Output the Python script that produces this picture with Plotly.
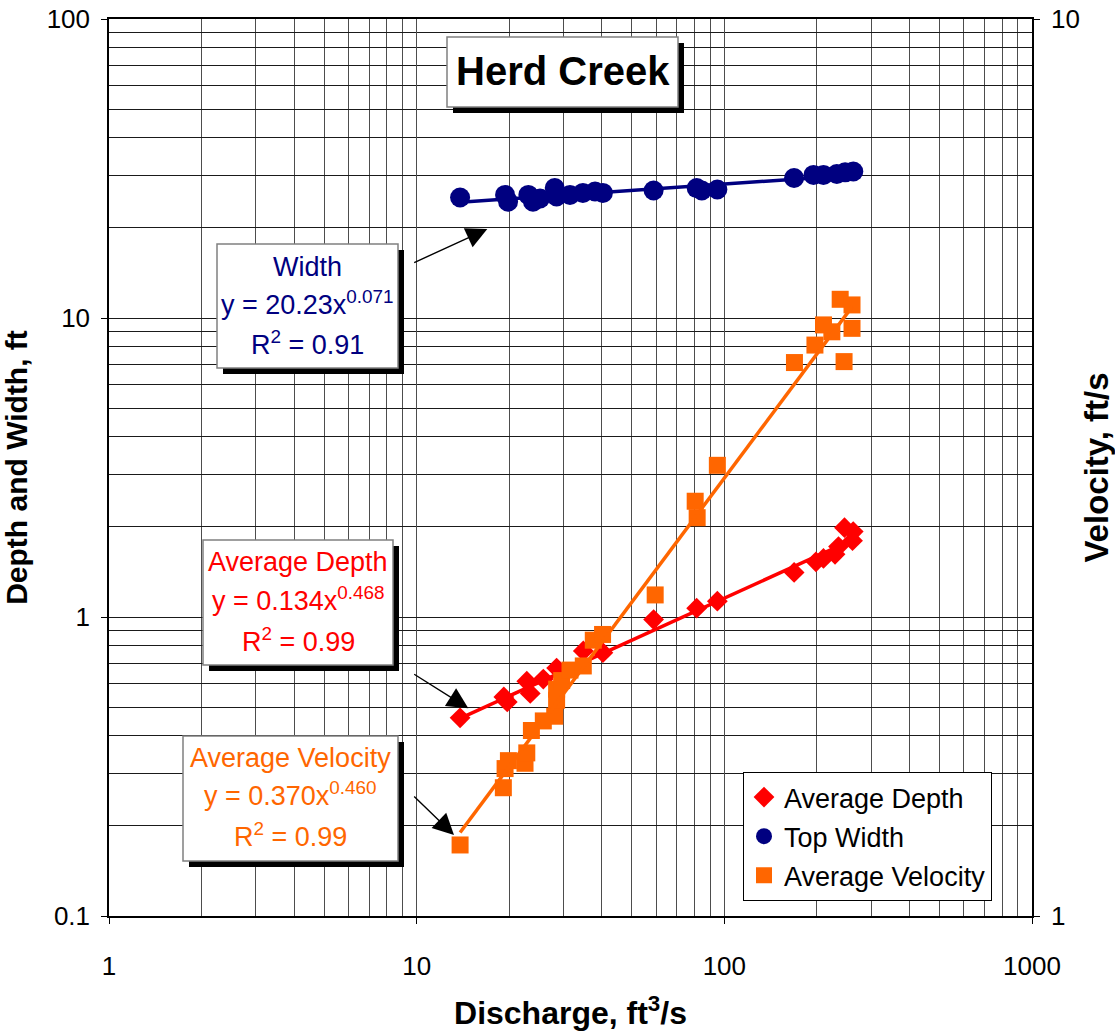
import plotly.graph_objects as go

# ---------------- data ----------------
width_q = [13.84, 19.38, 19.82, 23.07, 23.89, 25.18, 28.1, 28.5, 31.5, 34.7, 38.0, 40.3,
           58.9, 81.3, 84.5, 94.9, 168.5, 194.9, 210.0, 232.1, 247.0, 262.5]
width_ft = [25.3, 25.8, 24.5, 25.8, 24.5, 25.1, 27.2, 25.5, 25.8, 26.2, 26.5, 26.2,
            26.7, 27.2, 26.7, 26.9, 29.4, 30.1, 30.1, 30.3, 30.7, 30.9]

depth_q = [13.84, 19.2, 19.7, 22.8, 23.4, 25.8, 28.5, 34.8, 40.3, 58.9, 81.3, 94.9,
           168.6, 198.5, 210.0, 229.0, 235.0, 245.8, 262.4, 261.0]
depth_ft = [0.46, 0.54, 0.52, 0.61, 0.555, 0.62, 0.675, 0.77, 0.76, 0.98, 1.07, 1.13,
            1.41, 1.53, 1.57, 1.62, 1.72, 1.99, 1.93, 1.80]

vel_q = [13.84, 19.13, 19.38, 19.87, 22.5, 22.8, 23.6, 25.8, 28.1, 28.5, 28.5, 29.6,
         31.5, 34.8, 37.5, 40.2, 59.6, 80.4, 81.6, 94.9, 169.0, 197.0, 210.0, 223.6,
         238.0, 245.0, 260.0, 260.0]
vel_fps = [1.20, 1.39, 1.46, 1.49, 1.48, 1.52, 1.61, 1.65, 1.67, 1.74, 1.79, 1.83,
           1.88, 1.90, 2.03, 2.06, 2.28, 2.90, 2.78, 3.18, 4.14, 4.33, 4.56, 4.48,
           4.87, 4.15, 4.80, 4.52]

# power-law trendline coefficients (as printed on chart)
width_fit = (20.23, 0.071)
depth_fit = (0.134, 0.468)
vel_fit = (0.370, 0.460)

x_ticks = [1, 10, 100, 1000]
x_ticktext = ["1", "10", "100", "1000"]
y_ticks = [0.1, 1, 10, 100]
y_ticktext = ["0.1", "1", "10", "100"]
y2_ticks = [1, 10]
y2_ticktext = ["1", "10"]

NAVY = "#000080"
RED = "#FF0000"
ORANGE = "#FF6600"
FONT = "Arial, Liberation Sans, sans-serif"


def fit_line(q, coef):
    a, b = coef
    xs = [min(q), max(q)]
    return xs, [a * x ** b for x in xs]


fig = go.Figure()

fig.add_trace(go.Scatter(x=depth_q, y=depth_ft, mode="markers", name="Average Depth",
                         legendgroup="d", legendrank=1,
                         marker=dict(symbol="diamond", size=16, color=RED, line=dict(width=0))))
fig.add_trace(go.Scatter(x=width_q, y=width_ft, mode="markers", name="Top Width",
                         legendgroup="w", legendrank=2,
                         marker=dict(symbol="circle", size=20, color=NAVY, line=dict(width=0))))

lx, ly = fit_line(depth_q, depth_fit)
fig.add_trace(go.Scatter(x=lx, y=ly, mode="lines", line=dict(color=RED, width=3.5), showlegend=False))
lx, ly = fit_line(width_q, width_fit)
fig.add_trace(go.Scatter(x=lx, y=ly, mode="lines", line=dict(color=NAVY, width=3.5), showlegend=False))

fig.add_trace(go.Scatter(x=vel_q, y=vel_fps, mode="markers", name="Average Velocity",
                         legendgroup="v", legendrank=3, yaxis="y2",
                         marker=dict(symbol="square", size=17, color=ORANGE, line=dict(width=0))))
lx, ly = fit_line(vel_q, vel_fit)
fig.add_trace(go.Scatter(x=lx, y=ly, mode="lines", line=dict(color=ORANGE, width=3.5),
                         showlegend=False, yaxis="y2"))

# ---------------- layout geometry helpers ----------------
L, R, T, B = 109, 1032, 19, 916


def px(x):
    return (x - L) / (R - L)


def py(y):
    return (B - y) / (B - T)


shapes = []
annotations = []


def box(x0, y0, x1, y1, sh=6):
    shapes.append(dict(type="rect", xref="paper", yref="paper", layer="above",
                       x0=px(x0 + sh), x1=px(x1 + sh), y0=py(y0 + sh), y1=py(y1 + sh),
                       fillcolor="black", line=dict(width=0)))
    shapes.append(dict(type="rect", xref="paper", yref="paper", layer="above",
                       x0=px(x0), x1=px(x1), y0=py(y0), y1=py(y1),
                       fillcolor="white", line=dict(color="#808080", width=1.5)))


def label(x, y, text, color, size=27, bold=False):
    annotations.append(dict(xref="paper", yref="paper", x=px(x), y=py(y), text=text,
                            showarrow=False, xanchor="center", yanchor="middle",
                            font=dict(family=FONT, size=size, color=color,
                                      weight="bold" if bold else "normal")))


def arrow(x0, y0, x1, y1):
    annotations.append(dict(xref="paper", yref="paper", x=px(x1), y=py(y1), text="",
                            showarrow=True, axref="pixel", ayref="pixel",
                            ax=x0 - x1, ay=y0 - y1, arrowhead=2, arrowsize=3,
                            arrowwidth=1.4, arrowcolor="black", standoff=0))


# Title box
box(447, 37, 678, 107)
label(562.5, 71, "Herd Creek", "black", size=40, bold=True)

# Width box
box(217, 244, 398, 368)
label(307.5, 267, "Width", NAVY)
label(307.5, 303, "y = 20.23x<sup>0.071</sup>", NAVY)
label(307.5, 343, "R<sup>2</sup> = 0.91", NAVY)

# Depth box
box(203, 540, 393, 665)
label(298, 562, "Average Depth", RED)
label(298, 599, "y = 0.134x<sup>0.468</sup>", RED)
label(298, 640, "R<sup>2</sup> = 0.99", RED)

# Velocity box
box(183, 736, 398, 861)
label(290.5, 758, "Average Velocity", ORANGE)
label(290.5, 794, "y = 0.370x<sup>0.460</sup>", ORANGE)
label(290.5, 835, "R<sup>2</sup> = 0.99", ORANGE)

arrow(412.7, 263.3, 487.3, 229)
arrow(412.7, 673.3, 468.3, 708.3)
arrow(412.7, 795, 454, 835)

axis_common = dict(type="log", showline=True, linecolor="black", linewidth=1.5,
                   ticks="outside", ticklen=6, tickcolor="black", tickwidth=1,
                   tickfont=dict(family=FONT, size=26, color="black"), zeroline=False,
                   automargin=False)

fig.update_layout(
    width=1115, height=1032, autosize=False,
    margin=dict(l=L, r=1115 - R, t=T, b=1032 - B),
    paper_bgcolor="white", plot_bgcolor="white",
    font=dict(family=FONT, color="black"),
    xaxis=dict(**axis_common, range=[0, 3], tickvals=x_ticks, ticktext=x_ticktext,
               mirror=True, showgrid=True, gridcolor="#4d4d4d", gridwidth=1.2,
               ticklabelstandoff=20,
               minor=dict(dtick="D1", showgrid=True, gridcolor="#4d4d4d", gridwidth=1.2,
                          ticks=""),
               title=dict(text="Discharge, ft<sup>3</sup>/s", standoff=22,
                          font=dict(family=FONT, size=32, color="black", weight="bold"))),
    yaxis=dict(**axis_common, range=[-1, 2], tickvals=y_ticks, ticktext=y_ticktext,
               mirror=False, showgrid=True, gridcolor="#1a1a1a", gridwidth=1,
               ticklabelstandoff=6,
               minor=dict(dtick="D1", showgrid=True, gridcolor="#1a1a1a", gridwidth=1,
                          ticks=""),
               title=dict(text="Depth and Width, ft", standoff=14,
                          font=dict(family=FONT, size=30, color="black", weight="bold"))),
    yaxis2=dict(**axis_common, range=[0, 1], tickvals=y2_ticks, ticktext=y2_ticktext,
                overlaying="y", side="right", showgrid=False, ticklabelstandoff=6,
                title=dict(text="Velocity, ft/s", standoff=30,
                           font=dict(family=FONT, size=33, color="black", weight="bold"))),
    legend=dict(x=px(743), y=py(772), xanchor="left", yanchor="top",
                bgcolor="white", bordercolor="black", borderwidth=1,
                font=dict(family=FONT, size=27, color="black"),
                tracegroupgap=1, itemsizing="trace", itemwidth=30),
    shapes=shapes,
    annotations=annotations,
    showlegend=True,
)

fig.write_html("out.html")
